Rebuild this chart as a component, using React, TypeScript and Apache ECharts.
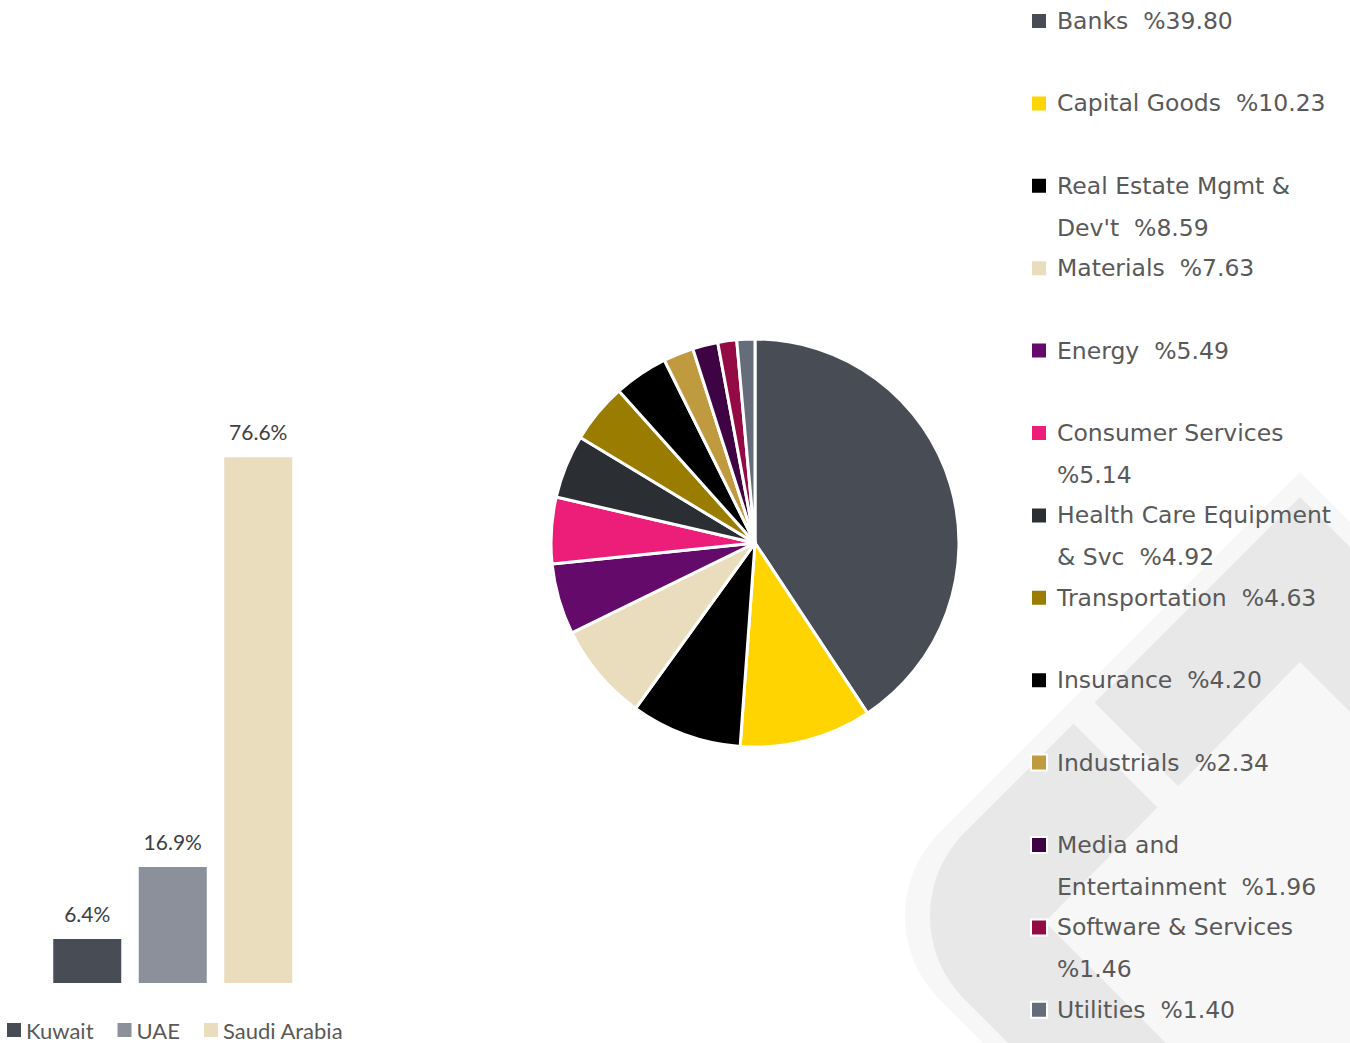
import React, { useEffect, useRef } from "react";
import * as echarts from "echarts";

const countries = ["Kuwait", "UAE", "Saudi Arabia"];
const countryShares = [6.4, 16.9, 76.6];
const countryColors = ["#474C55", "#8B909B", "#E9DDBE"];

const sectors = [
  "Banks",
  "Capital Goods",
  "Real Estate Mgmt & Dev't",
  "Materials",
  "Energy",
  "Consumer Services",
  "Health Care Equipment & Svc",
  "Transportation",
  "Insurance",
  "Industrials",
  "Media and Entertainment",
  "Software & Services",
  "Utilities",
];
const sectorShares = [39.8, 10.23, 8.59, 7.63, 5.49, 5.14, 4.92, 4.63, 4.2, 2.34, 1.96, 1.46, 1.4];
const sectorColors = [
  "#474C55",
  "#FFD400",
  "#000000",
  "#E9DDBE",
  "#630A6B",
  "#EC1E7A",
  "#2B2E33",
  "#9A7D00",
  "#000000",
  "#BF9A3E",
  "#3E0343",
  "#930A45",
  "#666D7A",
];

const LIGHT = "#f7f7f7";
const DARK = "#e8e8e8";

export default function App() {
  const ref = useRef<HTMLDivElement>(null);
  useEffect(() => {
    document.body.style.margin = "0";
    const chart = echarts.init(ref.current!, null, { renderer: "svg" });

    const watermark: any[] = [
      { type: "polygon", z: 0, shape: { points: [[1300, 472], [1400, 572], [1400, 1100], [1040, 1100], [939.6, 999.4], [939.6, 832.6]] }, style: { fill: LIGHT } },
      { type: "circle", z: 0, shape: { cx: 1023, cy: 916, r: 118 }, style: { fill: LIGHT } },
      { type: "polygon", z: 0, shape: { points: [[1300, 497], [1400, 597], [1400, 1100], [1065, 1100], [964.6, 999.4], [964.6, 832.6]] }, style: { fill: DARK } },
      { type: "circle", z: 0, shape: { cx: 1048, cy: 916, r: 118 }, style: { fill: DARK } },
      { type: "polygon", z: 0, shape: { points: [[1067.5, 717.5], [1088.5, 696.5], [1183.5, 791.5], [1162.5, 812.5]] }, style: { fill: LIGHT } },
      { type: "polygon", z: 0, shape: { points: [[1300, 662], [1400, 762], [1400, 1100], [1223, 1100], [1045, 922]] }, style: { fill: LIGHT } },
    ];

    const legendItems: any[] = [];
    sectors.forEach((name, i) => {
      const yc = 21 + 82.4 * i;
      legendItems.push({
        type: "rect",
        z: 10,
        shape: { x: 1031, y: yc - 8, width: 16, height: 16 },
        style: { fill: sectorColors[i], stroke: "#ffffff", lineWidth: 2 },
      });
      legendItems.push({
        type: "text",
        z: 10,
        x: 1057,
        y: yc - 21,
        style: {
          text: `${name}  %${sectorShares[i].toFixed(2)}`,
          fontFamily: "DejaVu Sans",
          fontSize: 23.5,
          fill: "#595959",
          width: 288,
          overflow: "break",
          lineHeight: 42,
          verticalAlign: "top",
          align: "left",
        },
      });
    });

    const barSeries = countries.map((c, i) => ({
      type: "bar",
      name: c,
      data: countries.map((_, j) => (j === i ? countryShares[i] : "-")),
      barWidth: 68,
      barGap: "-100%",
      itemStyle: { color: countryColors[i] },
      label: {
        show: true,
        position: "top",
        distance: 15,
        fontFamily: "Lato",
        fontSize: 21,
        color: "#404040",
        formatter: (p: any) => `${Number(p.value).toFixed(1)}%`,
      },
      z: 3,
    }));

    chart.setOption({
      animation: false,
      backgroundColor: "#ffffff",
      graphic: [...watermark, ...legendItems],
      legend: {
        data: countries,
        left: 7,
        top: 1019,
        padding: 0,
        icon: "rect",
        itemWidth: 14,
        itemHeight: 14,
        itemGap: 24,
        textStyle: { fontFamily: "Lato", fontSize: 22, color: "#595959" },
      },
      grid: { left: 44.5, width: 256.5, top: 434, height: 549 },
      xAxis: {
        type: "category",
        data: countries,
        show: false,
      },
      yAxis: { type: "value", min: 0, max: 80, show: false },
      series: [
        ...barSeries,
        {
          type: "pie",
          center: [755, 543],
          radius: 204,
          startAngle: 90,
          clockwise: true,
          label: { show: false },
          labelLine: { show: false },
          emphasis: { disabled: true },
          itemStyle: { borderColor: "#ffffff", borderWidth: 3 },
          data: sectors.map((n, i) => ({ name: n, value: sectorShares[i], itemStyle: { color: sectorColors[i] } })),
          z: 3,
        },
      ],
    });
    return () => chart.dispose();
  }, []);
  return <div ref={ref} style={{ width: 1350, height: 1043 }} />;
}
